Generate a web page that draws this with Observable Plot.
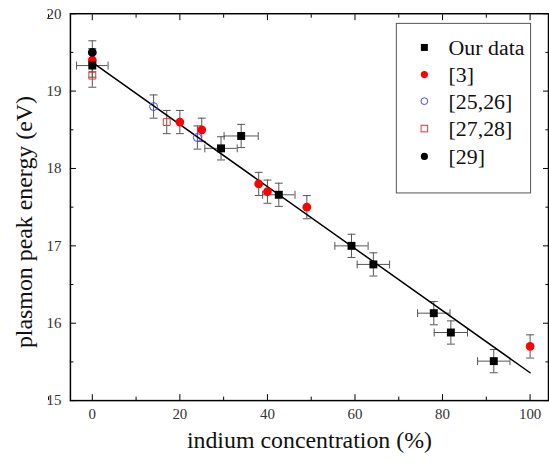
<!DOCTYPE html>
<html><head><meta charset="utf-8">
<script src="https://cdn.jsdelivr.net/npm/d3@7"></script>
<script src="https://cdn.jsdelivr.net/npm/@observablehq/plot@0.6"></script>
<style>
body{margin:0;overflow:hidden;background:#fff}
</style>
</head><body><div id="chart"></div>
<script>
// ---- data ----
const ourX    = [0, 29.4, 34, 42.6, 59.2, 64.2, 78, 81.9, 91.7];
const ourY    = [19.33, 18.26, 18.42, 17.66, 17.0, 16.76, 16.13, 15.88, 15.51];
const ourXErr = [3.6, 3.7, 3.9, 3.7, 3.8, 3.7, 3.7, 3.8, 3.7];
const ourYErr = [0.15, 0.15, 0.15, 0.15, 0.15, 0.15, 0.15, 0.15, 0.15];

const ref3X    = [0, 20, 25, 38, 40, 49, 100];
const ref3Y    = [19.4, 18.6, 18.5, 17.8, 17.7, 17.5, 15.7];
const ref3YErr = [0.15, 0.15, 0.15, 0.15, 0.15, 0.15, 0.15];

const ref2526X    = [14, 24];
const ref2526Y    = [18.8, 18.4];
const ref2526YErr = [0.15, 0.15];

const ref2728X    = [0, 17];
const ref2728Y    = [19.2, 18.6];
const ref2728YErr = [0.15, 0.15];

const ref29X    = [0];
const ref29Y    = [19.5];
const ref29YErr = [0.15];

const fitX = [0, 100];
const fitY = [19.37, 15.36];

const xMajor = [0, 20, 40, 60, 80, 100];
const xMinor = [-10, 10, 30, 50, 70, 90];
const yMajor = [15, 16, 17, 18, 19, 20];
const yMinor = [15.5, 16.5, 17.5, 18.5, 19.5];

const legendLabels = ["Our data", "[3]", "[25,26]", "[27,28]", "[29]"];
const xTitle = "indium concentration (%)";
const yTitle = "plasmon peak energy (eV)";

// ---- tables ----
const rows = (xs, ys, exs, eys) => xs.map((x, i) => ({x, y: ys[i], ex: exs ? exs[i] : 0, ey: eys[i]}));
const our  = rows(ourX, ourY, ourXErr, ourYErr);
const r3   = rows(ref3X, ref3Y, null, ref3YErr);
const r2526 = rows(ref2526X, ref2526Y, null, ref2526YErr);
const r2728 = rows(ref2728X, ref2728Y, null, ref2728YErr);
const r29  = rows(ref29X, ref29Y, null, ref29YErr);
const all = [...our, ...r3, ...r2526, ...r2728, ...r29];
const fit = fitX.map((x, i) => ({x, y: fitY[i]}));

const hcap = {draw(ctx) { ctx.moveTo(-4, 0); ctx.lineTo(4, 0); }};
const vcap = {draw(ctx) { ctx.moveTo(0, -4); ctx.lineTo(0, 4); }};
const ebar = "#555";
const font = "Liberation Serif";
const tickCol = "#333";
const fmt = d3.format("d");

const plot = Plot.plot({
  width: 552, height: 466,
  marginLeft: 70.3, marginRight: 1, marginTop: 13.3, marginBottom: 63.7,
  x: {domain: [-5, 104.2]},
  y: {domain: [15, 20]},
  marks: [
    // ticks
    Plot.axisX({anchor: "bottom", ticks: xMajor, tickFormat: fmt, tickSize: -6, tickPadding: 14, fontSize: 15, fontFamily: font, color: tickCol, label: null, stroke: "#000"}),
    Plot.axisX({anchor: "bottom", ticks: xMinor, tickSize: -3.5, tickFormat: () => "", label: null}),
    Plot.axisX({anchor: "top", ticks: xMajor, tickSize: -6, tickFormat: () => "", label: null}),
    Plot.axisX({anchor: "top", ticks: xMinor, tickSize: -3.5, tickFormat: () => "", label: null}),
    Plot.axisY({anchor: "left", ticks: yMajor, tickFormat: fmt, tickSize: -6, tickPadding: 15, fontSize: 15, fontFamily: font, color: tickCol, label: null, stroke: "#000"}),
    Plot.axisY({anchor: "left", ticks: yMinor, tickSize: -3.5, tickFormat: () => "", label: null}),
    Plot.axisY({anchor: "right", ticks: yMajor, tickSize: -6, tickFormat: () => "", label: null}),
    Plot.axisY({anchor: "right", ticks: yMinor, tickSize: -3.5, tickFormat: () => "", label: null}),
    // error bars
    Plot.ruleX(all, {x: "x", y1: d => d.y - d.ey, y2: d => d.y + d.ey, stroke: ebar, strokeWidth: 1}),
    Plot.dot(all, {x: "x", y: d => d.y - d.ey, symbol: hcap, r: 1, stroke: ebar, fill: "none", strokeWidth: 1}),
    Plot.dot(all, {x: "x", y: d => d.y + d.ey, symbol: hcap, r: 1, stroke: ebar, fill: "none", strokeWidth: 1}),
    Plot.ruleY(our, {y: "y", x1: d => d.x - d.ex, x2: d => d.x + d.ex, stroke: ebar, strokeWidth: 1}),
    Plot.dot(our, {x: d => d.x - d.ex, y: "y", symbol: vcap, r: 1, stroke: ebar, fill: "none", strokeWidth: 1}),
    Plot.dot(our, {x: d => d.x + d.ex, y: "y", symbol: vcap, r: 1, stroke: ebar, fill: "none", strokeWidth: 1}),
    // fit line
    Plot.line(fit, {x: "x", y: "y", stroke: "#000", strokeWidth: 1.5}),
    // points
    Plot.dot(r3, {x: "x", y: "y", r: 4.4, fill: "#f00", stroke: "none"}),
    Plot.dot(r29, {x: "x", y: "y", r: 4.4, fill: "#000", stroke: "none"}),
    Plot.dot(our, {x: "x", y: "y", symbol: "square", r: 4.5, fill: "#000", stroke: "none"}),
    Plot.dot(r2526, {x: "x", y: "y", r: 4, fill: "none", stroke: "#44f", strokeWidth: 1}),
    Plot.dot(r2728, {x: "x", y: "y", symbol: "square", r: 3.9, fill: "none", stroke: "#e33", strokeWidth: 1}),
    // frame
    Plot.frame({stroke: "#000", strokeWidth: 1.5}),
    // axis titles
    Plot.text([xTitle], {frameAnchor: "bottom", textAnchor: "middle", dy: 48, fontSize: 24, fontFamily: font, fill: "#111", text: d => d}),
    Plot.text([yTitle], {frameAnchor: "left", textAnchor: "middle", dx: -46, dy: 15, rotate: -90, fontSize: 24, fontFamily: font, fill: "#111", text: d => d})
  ]
});

// legend
const svg = d3.select(plot);
const lg = svg.append("g");
lg.append("rect").attr("x", 398.5).attr("y", 23.5).attr("width", 135).attr("height", 170.5)
  .attr("fill", "#fff").attr("stroke", "#555").attr("stroke-width", 1);
const ly = [47.7, 75, 101.7, 129.3, 157.3];
const mx = 426.7;
legendLabels.forEach((t, i) => {
  const y = ly[i];
  if (i === 0) lg.append("rect").attr("x", mx - 3.5).attr("y", y - 3.5).attr("width", 7).attr("height", 7).attr("fill", "#000");
  if (i === 1) lg.append("circle").attr("cx", mx).attr("cy", y).attr("r", 3.6).attr("fill", "#f00");
  if (i === 2) lg.append("circle").attr("cx", mx).attr("cy", y).attr("r", 3.4).attr("fill", "none").attr("stroke", "#44f");
  if (i === 3) lg.append("rect").attr("x", mx - 3.3).attr("y", y - 3.3).attr("width", 6.6).attr("height", 6.6).attr("fill", "none").attr("stroke", "#e33");
  if (i === 4) lg.append("circle").attr("cx", mx).attr("cy", y).attr("r", 3.6).attr("fill", "#000");
  lg.append("text").attr("x", 451).attr("y", y).attr("dy", "0.35em").attr("text-anchor", "start")
    .attr("font-size", 22).attr("fill", "#111").text(t);
});

document.getElementById("chart").appendChild(plot);
// force serif on every text, with inline !important
plot.style.setProperty("font-family", "'Liberation Serif', serif", "important");
plot.querySelectorAll("g, text, tspan").forEach(el => {
  el.setAttribute("font-family", "Liberation Serif");
  el.style.setProperty("font-family", "'Liberation Serif', serif", "important");
});
</script>
</body></html>
